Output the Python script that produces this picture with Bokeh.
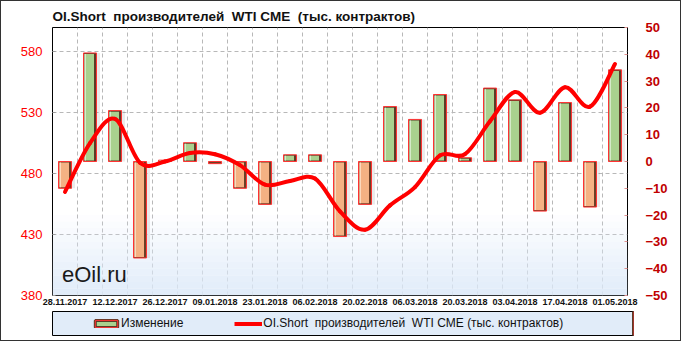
from bokeh.plotting import figure
from bokeh.layouts import column
from bokeh.models import (Range1d, LinearAxis, FixedTicker, SingleIntervalTicker,
                          Legend, LegendItem, BoxAnnotation, Label, ColumnDataSource)
from bokeh.transform import dodge
from bokeh.core.properties import value
from bokeh.embed import file_html
from bokeh.resources import INLINE

# ---------------- data ----------------
dates = ["28.11.2017", "05.12.2017", "12.12.2017", "19.12.2017", "26.12.2017",
         "02.01.2018", "09.01.2018", "16.01.2018", "23.01.2018", "30.01.2018",
         "06.02.2018", "13.02.2018", "20.02.2018", "27.02.2018", "06.03.2018",
         "13.03.2018", "20.03.2018", "27.03.2018", "03.04.2018", "10.04.2018",
         "17.04.2018", "24.04.2018", "01.05.2018"]
change = [-10, 40.5, 19, -36, 0.5, 7, -0.8, -10, -16, 2.5, 2.5, -28, -16,
          20.5, 15.7, 25, 1.4, 27.4, 23, -18.5, 22, -17, 34.2]
oi_short = [465, 505, 525, 489, 490, 497, 496, 487, 471, 474, 476, 449, 434,
            454, 469, 495, 496, 523, 547, 530, 551, 535, 570]
left_ticks = [380, 430, 480, 530, 580]
title_text = "OI.Short\u00a0 производителей\u00a0 WTI CME\u00a0 (тыс. контрактов)"
series_bar = "Изменение"
series_line = "OI.Short\u00a0 производителей\u00a0 WTI CME (тыс. контрактов)"

FONT = "Liberation Sans"
n = len(dates)
xs = list(range(n))

# ---------------- main figure ----------------
p = figure(frame_width=575, frame_height=268, output_backend="svg",
           toolbar_location=None,
           x_range=Range1d(-0.5, n - 0.5), y_range=Range1d(380, 600),
           min_border_left=51, min_border_right=53, min_border_top=26,
           min_border_bottom=16, background_fill_color="white",
           border_fill_color="white", outline_line_color="black",
           outline_line_width=1)

p.title.text = title_text
p.title.text_font = FONT
p.title.text_font_size = "13.5px"
p.title.text_font_style = "bold"
p.title.text_color = "#111111"
p.title.align = "left"
p.title.offset = 0
p.title.standoff = 8

# gradient at the bottom of the plot area
steps = 12
for i in range(steps):
    b = 380 + i * 5.5
    p.add_layout(BoxAnnotation(bottom=b, top=b + 5.5, fill_color="#dce9f8",
                               fill_alpha=(1 - i / steps) * 0.85,
                               line_alpha=0, level="underlay"))

# axes
p.yaxis.ticker = FixedTicker(ticks=left_ticks)
p.yaxis.major_label_text_color = "#ff0000"
p.yaxis.major_label_text_font = FONT
p.yaxis.major_label_text_font_size = "13px"
p.yaxis.axis_line_color = None
p.yaxis.major_tick_in = 3
p.yaxis.major_tick_out = 0
p.yaxis.major_tick_line_color = "#999999"
p.yaxis.minor_tick_line_color = None
p.yaxis.major_label_standoff = 10

p.extra_y_ranges = {"chg": Range1d(-50, 50)}
raxis = LinearAxis(y_range_name="chg", ticker=SingleIntervalTicker(interval=10))
raxis.major_label_text_color = "#c00000"
raxis.major_label_text_font = FONT
raxis.major_label_text_font_size = "13px"
raxis.major_label_text_font_style = "bold"
raxis.axis_line_color = None
raxis.major_tick_in = 3
raxis.major_tick_out = 0
raxis.major_tick_line_color = "#e09090"
raxis.minor_tick_line_color = None
raxis.major_label_standoff = 14
p.add_layout(raxis, "right")

p.xaxis.ticker = FixedTicker(ticks=xs[::2])
p.xaxis.major_label_overrides = {i: dates[i] for i in xs[::2]}
p.xaxis.major_label_text_font = FONT
p.xaxis.major_label_text_font_size = "9px"
p.xaxis.major_label_text_font_style = "bold"
p.xaxis.major_label_text_color = "#111111"
p.xaxis.axis_line_color = None
p.xaxis.major_tick_line_color = None
p.xaxis.minor_tick_line_color = None
p.xaxis.major_tick_in = 0
p.xaxis.major_tick_out = 0
p.xaxis.major_label_standoff = 3

# grid
p.ygrid.grid_line_color = "#b8b8b8"
p.ygrid.grid_line_dash = "4 3"
p.xgrid.ticker = FixedTicker(ticks=[i + 0.5 for i in xs[:-1]])
p.xgrid.grid_line_color = "#b8b8b8"
p.xgrid.grid_line_dash = "4 3"

# ---------------- bars ----------------
GREEN, ORANGE, DARK, OUTLINE = "#a9d18e", "#f4b183", "#5b3b27", "#ff3333"
pos = [v >= 0 for v in change]
main_col = [GREEN if q else ORANGE for q in pos]
light_col = ["#d5eac8" if q else "#fcd9bd" for q in pos]
dark_col = [DARK if q else "#6b3f26" for q in pos]
inset = 0.4
in_top = [max(v - inset, inset * 0.5) if v >= 0 else -inset for v in change]
in_bot = [inset if v >= 0 else min(v + inset, -inset * 0.5) for v in change]

src = ColumnDataSource(dict(x=xs, top=change, bottom=[0] * n, in_top=in_top,
                            in_bot=in_bot, main=main_col, light=light_col,
                            dark=dark_col))

p.vbar(x=dodge("x", 0.1), width=0.6, top="top", bottom="bottom", source=src,
       y_range_name="chg", fill_color="black", fill_alpha=0.08, line_alpha=0)
p.vbar(x="x", width=0.52, top="top", bottom="bottom", source=src,
       y_range_name="chg", fill_color="dark", line_color=OUTLINE, line_width=1)
p.vbar(x=dodge("x", -0.03), width=0.38, top="in_top", bottom="in_bot",
       source=src, y_range_name="chg", fill_color="main", line_alpha=0)
p.vbar(x=dodge("x", -0.19), width=0.06, top="in_top", bottom="in_bot",
       source=src, y_range_name="chg", fill_color="light", line_alpha=0)

# ---------------- smooth line (Catmull-Rom via Bezier) ----------------
def at(i):
    return oi_short[min(max(i, 0), n - 1)]

def xat(i):
    return xs[min(max(i, 0), n - 1)]

seg = dict(x0=[], y0=[], x1=[], y1=[], cx0=[], cy0=[], cx1=[], cy1=[])
for i in range(n - 1):
    seg["x0"].append(xs[i]); seg["y0"].append(oi_short[i])
    seg["x1"].append(xs[i + 1]); seg["y1"].append(oi_short[i + 1])
    seg["cx0"].append(xs[i] + (xat(i + 1) - xat(i - 1)) / 6)
    seg["cy0"].append(oi_short[i] + (at(i + 1) - at(i - 1)) / 6)
    seg["cx1"].append(xs[i + 1] - (xat(i + 2) - xat(i)) / 6)
    seg["cy1"].append(oi_short[i + 1] - (at(i + 2) - at(i)) / 6)
p.bezier(source=ColumnDataSource(seg), x0="x0", y0="y0", x1="x1", y1="y1",
         cx0="cx0", cy0="cy0", cx1="cx1", cy1="cy1", line_color="#ff0000",
         line_width=4, line_cap="round")

# watermark
p.add_layout(Label(x=-0.12, y=387, text="eOil.ru", text_font=FONT,
                   text_font_size="22px", text_color="#1a1a1a"))

# ---------------- legend strip ----------------
p2 = figure(frame_width=581, frame_height=24, output_backend="svg",
            toolbar_location=None, x_range=Range1d(0, 1), y_range=Range1d(0, 1),
            min_border_left=47, min_border_right=51, min_border_top=0,
            min_border_bottom=5, background_fill_color="#e1ecf9",
            border_fill_color="white", outline_line_color="black",
            outline_line_width=1)
p2.axis.visible = False
p2.grid.visible = False
# legend proxies: one sample of each series, kept outside the strip's ranges
proxy_bar = ColumnDataSource(dict(x=[n], top=[change[-1]]))
proxy_line = ColumnDataSource(dict(x=[n, n + 1], y=oi_short[-2:]))
lg_bar = p2.vbar(x="x", top="top", width=0.5, source=proxy_bar,
                 fill_color=GREEN, line_color=DARK, line_width=3)
lg_edge = p2.vbar(x="x", top="top", width=0.5, source=proxy_bar,
                  fill_alpha=0, line_color=OUTLINE, line_width=1)
lg_line = p2.line(x="x", y="y", source=proxy_line, line_color="#ff0000",
                  line_width=4)
legend = Legend(items=[LegendItem(label=series_bar, renderers=[lg_bar, lg_edge]),
                       LegendItem(label=series_line, renderers=[lg_line])],
                orientation="horizontal", location=(38, 3), padding=2,
                spacing=51, margin=0, glyph_width=28, glyph_height=9,
                label_standoff=1, label_text_font=FONT,
                label_text_font_size="12px", label_text_color="#111111",
                background_fill_alpha=0, border_line_alpha=0)
p2.add_layout(legend, "center")

layout = column(p, p2, spacing=0,
                styles={"border": "1px solid #333333"})

open("out.html", "w").write(file_html(layout, INLINE))
